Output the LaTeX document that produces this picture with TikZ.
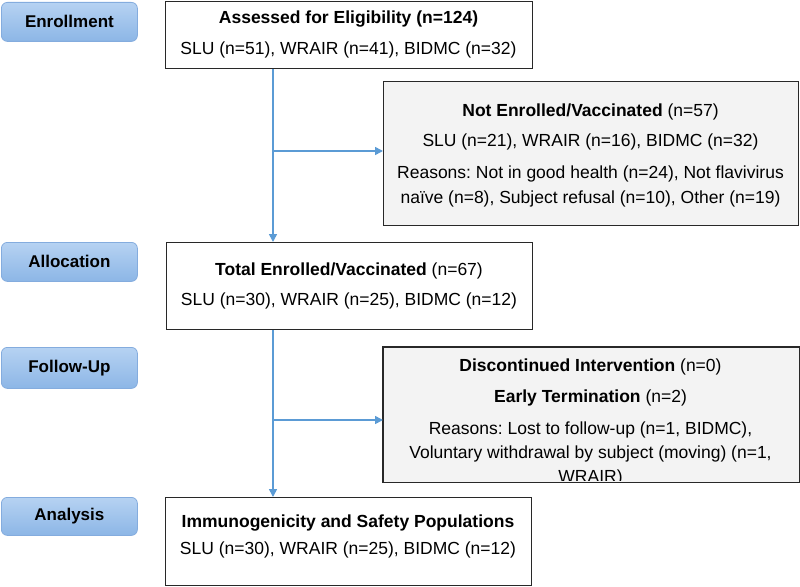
\documentclass[tikz,border=0pt]{standalone}
\usepackage{fontspec}
\setmainfont{Liberation Sans}
\usetikzlibrary{arrows.meta}
\frenchspacing
\definecolor{lnblue}{RGB}{91,155,213}
\definecolor{stgtop}{RGB}{182,210,242}
\definecolor{stgbot}{RGB}{140,182,230}
\definecolor{stgdraw}{RGB}{132,172,222}
\definecolor{sidefill}{RGB}{243,243,243}
\definecolor{boxdraw}{RGB}{40,40,40}
\begin{document}
\begin{tikzpicture}[x=1pt,y=-1pt,
  stagebox/.style={draw=stgdraw, line width=0.8pt, rounded corners=6pt, top color=stgtop, bottom color=stgbot, anchor=north west, inner sep=0pt, font=\fontsize{17}{20}\selectfont\bfseries, text=black},
  mainbox/.style={draw=boxdraw, line width=1.4pt, fill=white, anchor=north west, inner sep=0pt},
  sidebox/.style={draw=boxdraw, line width=1.4pt, fill=sidefill, anchor=north west, inner sep=0pt},
  txt/.style={anchor=base, inner sep=0pt, font=\fontsize{17.5}{20}\selectfont\frenchspacing},
  arr/.style={draw=lnblue, line width=1.6pt, -{Triangle[length=8pt,width=8pt]}},
  lnk/.style={draw=lnblue, line width=1.6pt}]
\useasboundingbox (0,0) rectangle (800,586);
% stage labels
\node[stagebox, minimum width=136pt, minimum height=39pt] (enr) at (1,2) {Enrollment};
\node[stagebox, minimum width=136pt, minimum height=39pt] (alloc) at (1,242) {Allocation};
\node[stagebox, minimum width=136pt, minimum height=41pt] (fup) at (1,347) {Follow-Up};
\node[stagebox, minimum width=136pt, minimum height=38pt] (ana) at (1,497) {Analysis};
% boxes
\node[mainbox, minimum width=367pt, minimum height=67pt] (assess) at (165,1) {};
\node[sidebox, minimum width=415pt, minimum height=144pt] (notenr) at (383,81) {};
\node[mainbox, minimum width=366pt, minimum height=87pt] (total) at (166,242) {};
\node[sidebox, draw=none, minimum width=415pt, minimum height=134pt] (disc) at (383,347) {};
\node[mainbox, minimum width=366pt, minimum height=88pt] (immuno) at (165,497) {};
% texts
\node[txt] (a1) at (348.5,24) {\textbf{Assessed for Eligibility (n=124)}};
\node[txt] (a2) at (348.5,55) {SLU (n=51), WRAIR (n=41), BIDMC (n=32)};
\node[txt] (n1) at (590.5,116) {\textbf{Not Enrolled/Vaccinated} (n=57)};
\node[txt] (n2) at (590.5,146) {SLU (n=21), WRAIR (n=16), BIDMC (n=32)};
\node[txt] (n3) at (590.5,178) {Reasons: Not in good health (n=24), Not flavivirus};
\node[txt] (n4) at (590.5,203) {naïve (n=8), Subject refusal (n=10), Other (n=19)};
\node[txt] (t1) at (349,275.5) {\textbf{Total Enrolled/Vaccinated} (n=67)};
\node[txt] (t2) at (349,305) {SLU (n=30), WRAIR (n=25), BIDMC (n=12)};
\node[txt] (d1) at (590.5,371) {\textbf{Discontinued Intervention} (n=0)};
\node[txt] (d2) at (590.5,402) {\textbf{Early Termination} (n=2)};
\node[txt] (d3) at (590.5,434) {Reasons: Lost to follow-up (n=1, BIDMC),};
\node[txt] (d4) at (590.5,458) {Voluntary withdrawal by subject (moving) (n=1,};
\begin{scope}
\clip (384,348) rectangle (797,480);
\node[txt] (d5) at (590.5,482) {WRAIR)};
\end{scope}
\draw[boxdraw, line width=1.4pt] (disc.north west) rectangle (disc.south east);
\node[txt] (i1) at (348,527) {\textbf{Immunogenicity and Safety Populations}};
\node[txt] (i2) at (348,554) {SLU (n=30), WRAIR (n=25), BIDMC (n=12)};
% connectors
\coordinate (b1) at (273,151);
\coordinate (b2) at (273,420);
\draw[arr] (assess.south -| b1) -- (total.north -| b1);
\draw[arr] (b1) -- (notenr.west |- b1);
\draw[arr] (total.south -| b2) -- (immuno.north -| b2);
\draw[arr] (b2) -- (disc.west |- b2);
\end{tikzpicture}
\end{document}
